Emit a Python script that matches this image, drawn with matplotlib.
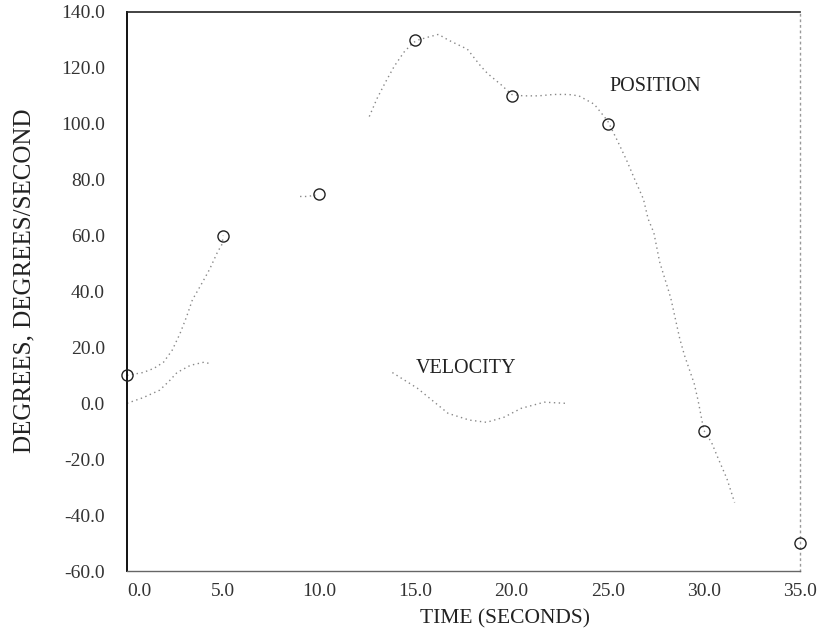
import numpy as np
import matplotlib
matplotlib.use("Agg")
import matplotlib.pyplot as plt

# Measured position data points (markers)
t_points = [0, 5, 10, 15, 20, 25, 30, 35]
pos_points = [10, 60, 75, 130, 110, 100, -10, -50]

# Position curve (NaN = gap where trace is not visible)
pos_curve_t = [0, 0.83, 1.4, 1.9, 2.35, 2.76, 3.1, 3.4, 3.9, 4.3, 4.7, 4.95, 5.0, np.nan,
               9.0, 9.4, 9.8, np.nan,
               12.6, 13.0, 13.45, 13.9, 14.4, 14.87, 15.15, 15.65, 16.2, 16.7, 17.0,
               17.7, 18.4, 18.75, 19.45, 20.0, 20.6, 21.4, 22.2, 22.95, 23.5, 24.3, 25.0,
               25.5, 25.98, 26.35, 26.86, 27.1, 27.4, 27.7, 28.2, 28.3, 28.75, 29.0,
               29.5, 29.7, 30.0, 30.4, 30.7, 31.2, 31.6]
pos_curve_v = [10, 11, 12.5, 14.7, 19, 25, 31, 37, 43, 48, 54, 57, 60, np.nan,
               74, 74, 74.5, np.nan,
               102.6, 109, 115, 120.6, 125.6, 129, 130, 131, 132, 130, 129,
               126.7, 120.6, 118, 114, 110.5, 110, 110, 110.5, 110.5, 110, 107, 101,
               94, 87, 81, 73, 66, 61, 50.6, 39.5, 37, 23, 17,
               7, 1, -9.7, -14, -19, -27, -35.5]

# Velocity curve
vel_curve_t = [0, 0.83, 1.7, 2.2, 2.6, 3.3, 4.0, 4.25, np.nan,
               13.8, 15.1, 16.7, 17.8, 18.7, 19.6, 20.5, 21.7, 22.8]
vel_curve_v = [0, 2, 4.7, 8, 11, 13.6, 14.7, 14.3, np.nan,
               11, 5.4, -3.6, -6.0, -6.8, -5.0, -1.8, 0.4, 0]

x_ticks = [0, 5, 10, 15, 20, 25, 30, 35]
x_ticklabels = ["0.0", "5.0", "10.0", "15.0", "20.0", "25.0", "30.0", "35.0"]
y_ticks = [-60, -40, -20, 0, 20, 40, 60, 80, 100, 120, 140]
y_ticklabels = ["-60.0", "-40.0", "-20.0", "0.0", "20.0", "40.0", "60.0",
                "80.0", "100.0", "120.0", "140.0"]

plt.rcParams['font.family'] = ['Liberation Serif', 'DejaVu Serif']

fig = plt.figure(figsize=(8.27, 6.35), dpi=100)
ax = fig.add_axes([127/827, 64/635, 673/827, 559/635])

ax.plot(pos_curve_t, pos_curve_v, linestyle=(0, (1, 2.5)), color='#888888', lw=1.0)
ax.plot(vel_curve_t, vel_curve_v, linestyle=(0, (1, 2.5)), color='#888888', lw=1.0)
ax.plot(t_points, pos_points, linestyle='none', marker='o', markersize=8,
        markerfacecolor='none', markeredgecolor='#222222', markeredgewidth=1.0,
        clip_on=False, zorder=5)

ax.set_xlim(0, 35)
ax.set_ylim(-60, 140)
ax.set_xticks(x_ticks)
ax.set_xticklabels(x_ticklabels)
ax.set_yticks(y_ticks)
ax.set_yticklabels(y_ticklabels)
ax.tick_params(axis='both', length=0, labelsize=14, colors='#333333')
ax.tick_params(axis='y', pad=16)
ax.tick_params(axis='x', pad=9)
ax.get_xticklabels()[0].set_horizontalalignment('left')

ax.spines['left'].set_color('#111111')
ax.spines['left'].set_linewidth(1.4)
ax.spines['top'].set_color('#222222')
ax.spines['top'].set_linewidth(1.2)
ax.spines['bottom'].set_color('#666666')
ax.spines['bottom'].set_linewidth(1.0)
ax.spines['right'].set_color('#999999')
ax.spines['right'].set_linestyle((0, (1, 3)))
ax.spines['right'].set_linewidth(1.0)

ax.set_xlabel("TIME (SECONDS)", fontsize=15.5, color='#222222')
ax.xaxis.set_label_coords(0.562, -0.086)
ax.xaxis.label.set_verticalalignment('center')
ax.set_ylabel("DEGREES, DEGREES/SECOND", fontsize=18, color='#222222')
ax.yaxis.set_label_coords(-0.152, 0.519)
ax.yaxis.label.set_verticalalignment('center')

ax.text(15.0, 12.6, "VELOCITY", fontsize=14.5, color='#222222', va='center', ha='left')
ax.text(25.1, 113.4, "POSITION", fontsize=14.5, color='#222222', va='center', ha='left')

fig.savefig("out.png", dpi=100)
